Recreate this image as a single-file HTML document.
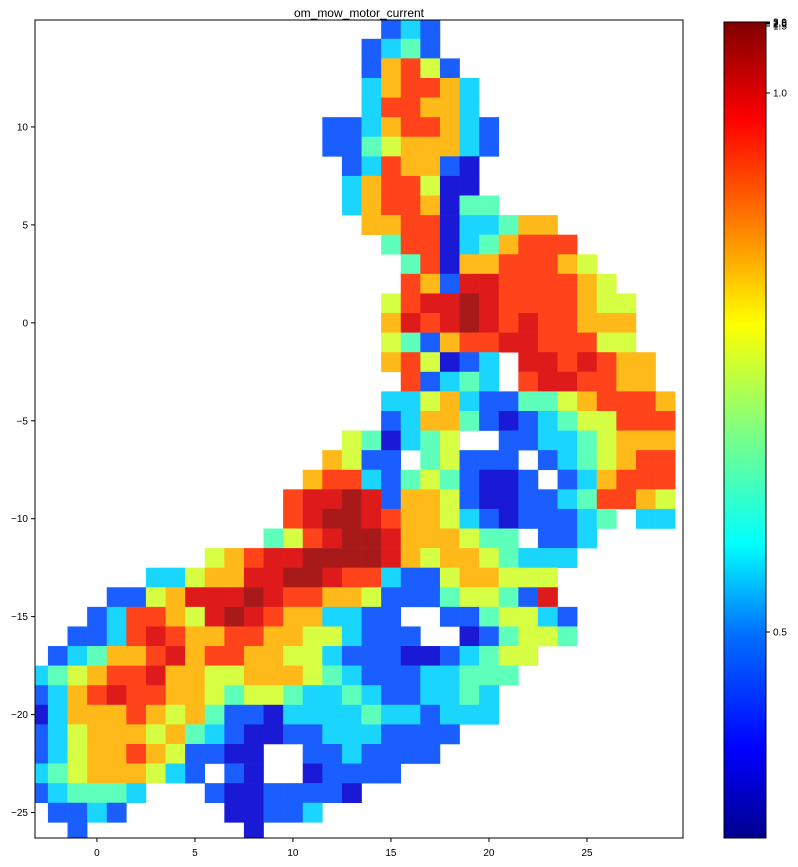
<!DOCTYPE html>
<html><head><meta charset="utf-8"><style>
html,body{margin:0;padding:0;background:#fff;}
svg{display:block;font-family:"Liberation Sans",sans-serif;}
</style></head><body>
<svg id="chart" width="798" height="867" viewBox="0 0 798 867" xmlns="http://www.w3.org/2000/svg">
<text x="359" y="17" text-anchor="middle" font-size="12">om_mow_motor_current</text>
<g id="cells"></g>
<rect x="35" y="20" width="648" height="818" fill="none" stroke="#000" stroke-width="1"/>
<g id="xaxis"></g>
<g id="yaxis"></g>
<defs><linearGradient id="jet" x1="0" y1="1" x2="0" y2="0">
<stop offset="0" stop-color="#00008f"/><stop offset="0.11" stop-color="#0000ff"/>
<stop offset="0.25" stop-color="#0070ff"/><stop offset="0.36" stop-color="#00ffff"/>
<stop offset="0.5" stop-color="#80ff80"/><stop offset="0.63" stop-color="#ffff00"/>
<stop offset="0.75" stop-color="#ff8000"/><stop offset="0.88" stop-color="#ff0000"/>
<stop offset="1" stop-color="#800000"/></linearGradient></defs>
<rect x="724" y="22" width="42" height="816" fill="url(#jet)" stroke="#000" stroke-width="1"/>
<g id="cbticks"></g>
</svg>
<script>
const xMin = -3.16, xMax = 29.9, yMin = -26.3, yMax = 15.46;
const colX0 = -3, rowY0 = 15;
const levelValues = [0.08,0.2,0.33,0.45,0.58,0.7,0.83,0.91,0.97];
const gridRows = [
"..................121",
".................1231",
".................15641",
".................256652",
".................266552",
"...............112566521",
"...............113455521",
"................1265510",
"................2566400",
"................25665033",
".................5566022355",
"..................3660235666",
"...................3605566654",
"...................65177666654",
"..................4677876666544",
"..................5767876766555",
"..................4315667766644",
"..................564012.7767655",
"...................61232.6776655",
"..................224521133456665",
"..................125531012344666",
"................430234..112234555",
"...............5411.34111.1234566",
"..............566213431001.125666",
".............67787155410011236654",
".............67887655421011123.22",
"............3467887555433.112",
".........4567788887545543222",
"......224557788766211455444",
"....11457778766554111344317",
"...1266547876552211..1134421",
"..112676556655442111..013443",
".1235567566554421110012344",
"2345667554455543211122333",
"125676655434432232112232",
"025556545311022223221222",
"1245554532100112221111",
"124556541100..1121111",
"234555421.10..01111",
"123332...10011110",
".1121.....00112",
"..1........0"
];
const xTicks = [0,5,10,15,20,25];
const yTicks = [10,5,0,-5,-10,-15,-20,-25];
const cbTickValues = [0.5,1.0,1.5,2.0,2.5,3.0];
const cbTickPos = [632,93,26,24,23,22];

const NS = "http://www.w3.org/2000/svg";
function sx(v){return 35 + (v - xMin) / (xMax - xMin) * 648;}
function sy(v){return 20 + (yMax - v) / (yMax - yMin) * 818;}
function jet(t){
  const w = 0.1;
  const c = v => Math.round(255 * ((1 - w) * Math.max(0, Math.min(1, v)) + w));
  return "rgb(" + c(1.5 - Math.abs(4*t - 3)) + "," + c(1.5 - Math.abs(4*t - 2)) + "," + c(1.5 - Math.abs(4*t - 1)) + ")";
}
const cells = document.getElementById("cells");
gridRows.forEach((row, r) => {
  for (let c = 0; c < row.length; c++) {
    const ch = row[c];
    if (ch === ".") continue;
    const xv = colX0 + c, yv = rowY0 - r;
    const x0 = Math.max(35, sx(xv - 0.5)), x1 = Math.min(683, sx(xv + 0.5));
    const y0 = Math.max(20, sy(yv + 0.5)), y1 = Math.min(838, sy(yv - 0.5));
    const rect = document.createElementNS(NS, "rect");
    rect.setAttribute("x", x0); rect.setAttribute("y", y0);
    rect.setAttribute("width", x1 - x0 + 0.3); rect.setAttribute("height", y1 - y0 + 0.3);
    rect.setAttribute("fill", jet(levelValues[+ch]));
    
    
    cells.appendChild(rect);
  }
});
const xa = document.getElementById("xaxis");
xTicks.forEach(v => {
  const x = sx(v);
  const l = document.createElementNS(NS, "line");
  l.setAttribute("x1", x); l.setAttribute("x2", x); l.setAttribute("y1", 838); l.setAttribute("y2", 842);
  l.setAttribute("stroke", "#000");
  
  
  xa.appendChild(l);
  const t = document.createElementNS(NS, "text");
  t.setAttribute("x", x); t.setAttribute("y", 856); t.setAttribute("text-anchor", "middle"); t.setAttribute("font-size", "10");
  t.textContent = String(v);
  
  
  xa.appendChild(t);
});
const ya = document.getElementById("yaxis");
yTicks.forEach(v => {
  const y = sy(v);
  const l = document.createElementNS(NS, "line");
  l.setAttribute("x1", 31); l.setAttribute("x2", 35); l.setAttribute("y1", y); l.setAttribute("y2", y);
  l.setAttribute("stroke", "#000");
  
  
  ya.appendChild(l);
  const t = document.createElementNS(NS, "text");
  t.setAttribute("x", 28); t.setAttribute("y", y + 3.5); t.setAttribute("text-anchor", "end"); t.setAttribute("font-size", "10");
  t.textContent = v < 0 ? "\u2212" + Math.abs(v) : String(v);
  
  
  ya.appendChild(t);
});
const cb = document.getElementById("cbticks");
cbTickValues.forEach((v, i) => {
  const y = cbTickPos[i];
  const l = document.createElementNS(NS, "line");
  l.setAttribute("x1", 766); l.setAttribute("x2", 770); l.setAttribute("y1", y); l.setAttribute("y2", y);
  l.setAttribute("stroke", "#000");
  
  
  cb.appendChild(l);
  const t = document.createElementNS(NS, "text");
  t.setAttribute("x", 773); t.setAttribute("y", y + 3.5); t.setAttribute("font-size", "10");
  t.textContent = v.toFixed(1);
  
  
  cb.appendChild(t);
});
</script>
</body></html>
